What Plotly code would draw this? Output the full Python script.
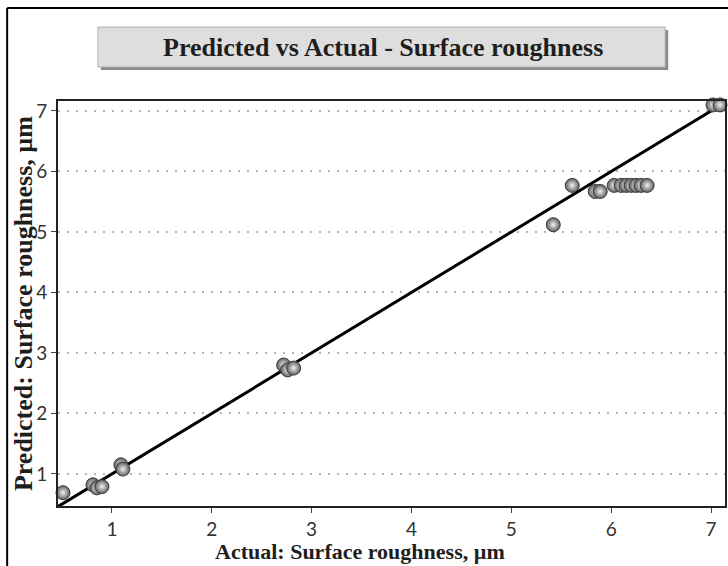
import plotly.graph_objects as go

# Data
actual = [0.51, 0.81, 0.85, 0.90, 1.09, 1.11,
          2.72, 2.76, 2.82,
          5.42, 5.61, 5.84, 5.89,
          6.03, 6.10, 6.15, 6.20, 6.25, 6.30, 6.36,
          7.02, 7.09]
predicted = [0.69, 0.82, 0.77, 0.79, 1.15, 1.08,
             2.80, 2.72, 2.75,
             5.12, 5.77, 5.67, 5.67,
             5.77, 5.77, 5.77, 5.77, 5.77, 5.77, 5.77,
             7.10, 7.10]
diag = [0.40, 7.20]
x_ticks = [1, 2, 3, 4, 5, 6, 7]
y_ticks = [1, 2, 3, 4, 5, 6, 7]

title_text = "Predicted vs Actual - Surface roughness"
x_title = "Actual: Surface roughness, µm"
y_title = "Predicted: Surface roughness, µm"

W, H = 728, 566
L, R, T, B = 58, 1, 101, 60
pw, ph = W - L - R, H - T - B


def px(p):
    return (p - L) / pw


def py(p):
    return (H - B - p) / ph


fig = go.Figure()
fig.add_trace(go.Scatter(x=diag, y=diag, mode="lines",
                         line=dict(color="black", width=3),
                         hoverinfo="skip", showlegend=False))
fig.add_trace(go.Scatter(
    x=actual, y=predicted, mode="markers", cliponaxis=False,
    marker=dict(size=14, color="#5e5e5e",
                gradient=dict(type="radial", color="#f2f2f2"),
                line=dict(color="#3a3a3a", width=1)),
    showlegend=False))

serif = "Liberation Serif, Times New Roman, serif"
tickfont = dict(family="Lato, Carlito, sans-serif", size=19, color="#333333")

fig.update_xaxes(range=[0.46, 7.14], tickvals=x_ticks, showgrid=False,
                 zeroline=False, showline=True, linecolor="#222222",
                 linewidth=2, mirror=True, ticks="outside", ticklen=5,
                 tickcolor="#444444", tickfont=tickfont)
fig.update_yaxes(range=[0.47, 7.165], tickvals=y_ticks, showgrid=True,
                 gridcolor="#b4b4b4", griddash="2px,7px", gridwidth=1.5,
                 zeroline=False, showline=True, linecolor="#222222",
                 linewidth=2, mirror=True, ticks="outside", ticklen=5,
                 tickcolor="#444444", tickfont=tickfont)

shapes = []
# outer frame (left and top)
shapes.append(dict(type="line", xref="paper", yref="paper",
                   x0=px(7), x1=px(7), y0=py(8), y1=py(570),
                   line=dict(color="black", width=2)))
shapes.append(dict(type="line", xref="paper", yref="paper",
                   x0=px(7), x1=px(732), y0=py(8), y1=py(8),
                   line=dict(color="black", width=2)))
# title box shadow
shapes.append(dict(type="rect", xref="paper", yref="paper",
                   x0=px(101), x1=px(670), y0=py(70), y1=py(30),
                   fillcolor="#8a8a8a", line=dict(width=0), layer="below"))
# title box
shapes.append(dict(type="rect", xref="paper", yref="paper",
                   x0=px(98), x1=px(667), y0=py(67), y1=py(27),
                   fillcolor="#dedede", line=dict(color="#b0b0b0", width=1),
                   layer="below"))

annotations = [
    dict(text="<b>" + title_text + "</b>", xref="paper", yref="paper",
         x=px(384), y=py(47), showarrow=False,
         xanchor="center", yanchor="middle",
         font=dict(family=serif, size=26, color="#1e1e1e")),
    dict(text="<b>" + x_title + "</b>", xref="paper", yref="paper",
         x=px(361), y=py(551), showarrow=False,
         xanchor="center", yanchor="middle",
         font=dict(family=serif, size=22, color="#1e1e1e")),
    dict(text="<b>" + y_title + "</b>", xref="paper", yref="paper",
         x=px(23), y=py(304), showarrow=False, textangle=-90,
         xanchor="center", yanchor="middle",
         font=dict(family=serif, size=26, color="#1e1e1e")),
]

fig.update_layout(width=W, height=H,
                  margin=dict(l=L, r=R, t=T, b=B),
                  paper_bgcolor="white", plot_bgcolor="white",
                  shapes=shapes, annotations=annotations)

fig.write_html("out.html")
